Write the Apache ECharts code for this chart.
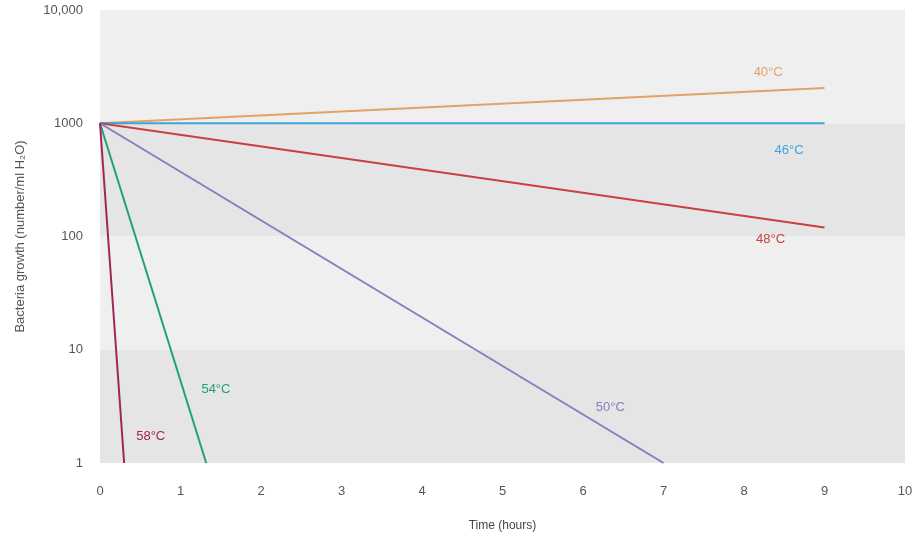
<!DOCTYPE html>
<html>
<head>
<meta charset="UTF-8">
<title>Bacteria growth</title>
<script type="text/javascript" src="https://cdn.jsdelivr.net/npm/echarts@6/dist/echarts.min.js"></script>
</head>
<body style="margin:0;background:#fff;">

<div id="box" style="width:912px;height:535px;"></div>

<script type="text/javascript">

// temperatures and the line end points (time in hours, count per ml)
var names = ['40°C', '46°C', '48°C', '50°C', '54°C', '58°C'];
var colors = ['#e0a465', '#3aa6df', '#c8403f', '#8a7bc2', '#22a273', '#a3245c'];
var startTime = [0, 0, 0, 0, 0, 0];
var startCount = [1000, 1000, 1000, 1000, 1000, 1000];
var endTime = [9, 9, 9, 7, 1.32, 0.3];
var endCount = [2050, 1000, 120, 1, 1, 1];
// where each temperature label sits
var labelTime = [8.3, 8.56, 8.33, 6.34, 1.44, 0.63];
var labelCount = [2800, 580, 95, 3.1, 4.5, 1.7];

var xTicks = [0, 1, 2, 3, 4, 5, 6, 7, 8, 9, 10];
var yTicks = [1, 10, 100, 1000, 10000];

var mychart = echarts.init(document.getElementById('box'));

var series = [];
for (var i = 0; i < names.length; i++) {
  series.push({
    name: names[i],
    type: 'line',
    showSymbol: false,
    silent: true,
    lineStyle: { color: colors[i], width: 2 },
    data: [[startTime[i], startCount[i]], [endTime[i], endCount[i]]],
    markPoint: {
      symbol: 'circle',
      symbolSize: 0,
      label: {
        show: true,
        formatter: names[i],
        color: colors[i],
        fontSize: 13,
        fontFamily: 'Liberation Sans'
      },
      data: [{ coord: [labelTime[i], labelCount[i]] }]
    }
  });
}

var option = {
  animation: false,
  grid: { left: 100, right: 7, top: 10, bottom: 72, outerBoundsMode: 'none' },
  xAxis: {
    type: 'value',
    min: xTicks[0],
    max: xTicks[xTicks.length - 1],
    interval: 1,
    name: 'Time (hours)',
    nameLocation: 'middle',
    nameGap: 57,
    nameTextStyle: { color: '#444', fontSize: 12, fontFamily: 'Liberation Sans' },
    axisLine: { show: false },
    axisTick: { show: false },
    splitLine: { show: false },
    axisLabel: { color: '#555', fontSize: 13, margin: 22, fontFamily: 'Liberation Sans' }
  },
  yAxis: {
    type: 'log',
    logBase: 10,
    min: yTicks[0],
    max: yTicks[yTicks.length - 1],
    name: 'Bacteria growth (number/ml H\u2082O)',
    nameLocation: 'middle',
    nameGap: 73,
    nameTextStyle: { color: '#555', fontSize: 13, fontFamily: 'Liberation Sans' },
    axisLine: { show: false },
    axisTick: { show: false },
    splitLine: { show: false },
    splitArea: { show: true, areaStyle: { color: ['#e5e5e5', '#efefef'] } },
    axisLabel: {
      color: '#555',
      fontSize: 13,
      margin: 17,
      fontFamily: 'Liberation Sans',
      formatter: function (v) { return v >= 10000 ? '10,000' : String(v); }
    }
  },
  series: series
};

mychart.setOption(option);
</script>
</body>
</html>
